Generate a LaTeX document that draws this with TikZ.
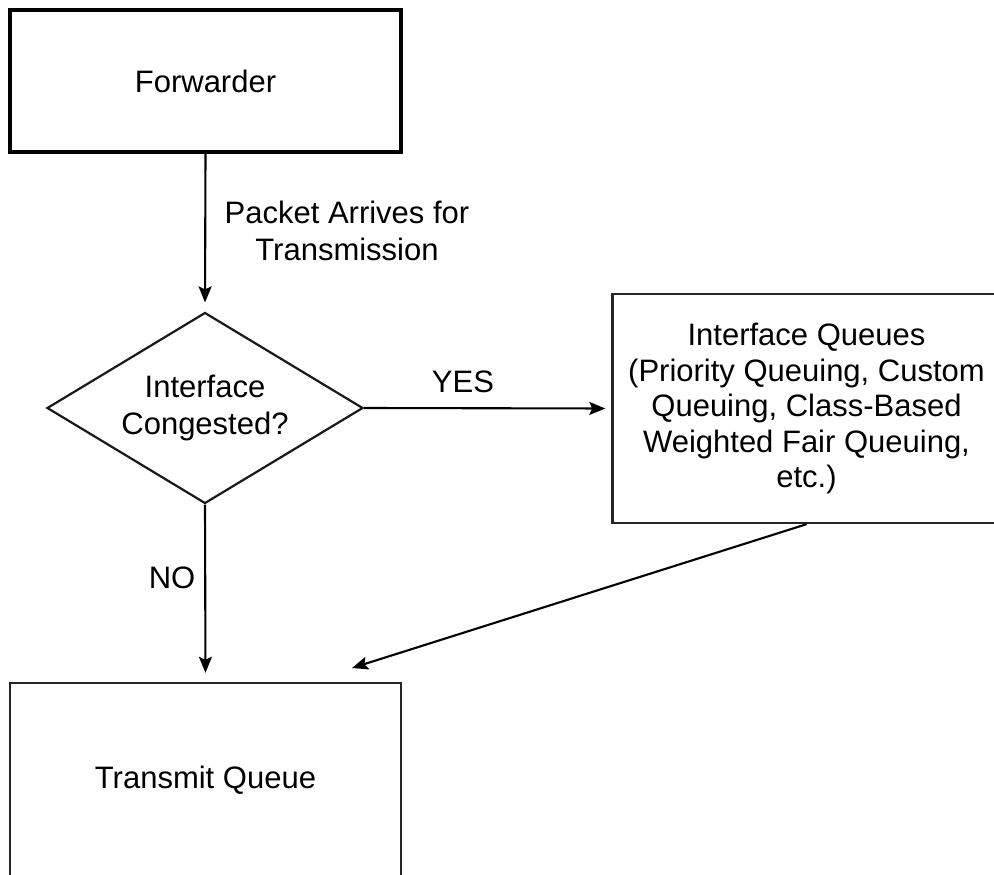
\documentclass[tikz,border=0pt]{standalone}
\usepackage{fontspec}
\setmainfont{Liberation Sans}
\usetikzlibrary{shapes.geometric,arrows.meta}
\begin{document}
\begin{tikzpicture}[x=1pt,y=1pt,
  every node/.style={font=\fontsize{31}{37}\selectfont, text=black},
  box/.style={draw=black!85, line width=2.4pt, rectangle, inner sep=0pt, align=center},
  thickbox/.style={box, line width=4pt, draw=black},
  decision/.style={draw=black!90, line width=2.2pt, diamond, inner sep=0pt, aspect=1.7,
    minimum width=316, minimum height=191, align=center},
  flow/.style={draw=black, line width=2.1pt,
    -{Stealth[length=16pt,width=13pt,inset=3pt]}},
  lbl/.style={inner sep=0pt, align=center}]
  \useasboundingbox (0,0) rectangle (994,-875);
  \clip (0,0) rectangle (994,-875);
  \fill[white] (0,0) rectangle (994,-875);

  % process boxes and the decision
  \node[thickbox, minimum width=391, minimum height=142] (fwd) at (205.5,-81) {Forwarder};
  \node[decision] (dec) at (205,-408) {Interface\\Congested?};
  \node[box, minimum width=388, minimum height=229,
        font=\fontsize{31}{35.5}\selectfont] (iq) at (806.5,-408.5)
    {Interface Queues\\(Priority Queuing, Custom\\Queuing, Class-Based\\Weighted Fair Queuing,\\etc.)};
  \node[box, minimum width=391, minimum height=195] (tq) at (205.5,-780.5) {Transmit Queue};
  \coordinate (tqin) at (352,-668);

  % connectors
  \draw[flow, shorten >=9pt] (fwd.south) -- (dec.north);
  \draw[flow, shorten >=6pt] (dec.east) -- (iq.west);
  \draw[flow, shorten >=9pt] (dec.south) -- (tq.north);
  \draw[flow] (iq.south) -- (tqin);

  % labels
  \node[lbl] (pkt) at (347,-231) {Packet Arrives for\\Transmission};
  \node[lbl] (yes) at (463,-382) {YES};
  \node[lbl] (no) at (172,-578) {NO};
\end{tikzpicture}
\end{document}
